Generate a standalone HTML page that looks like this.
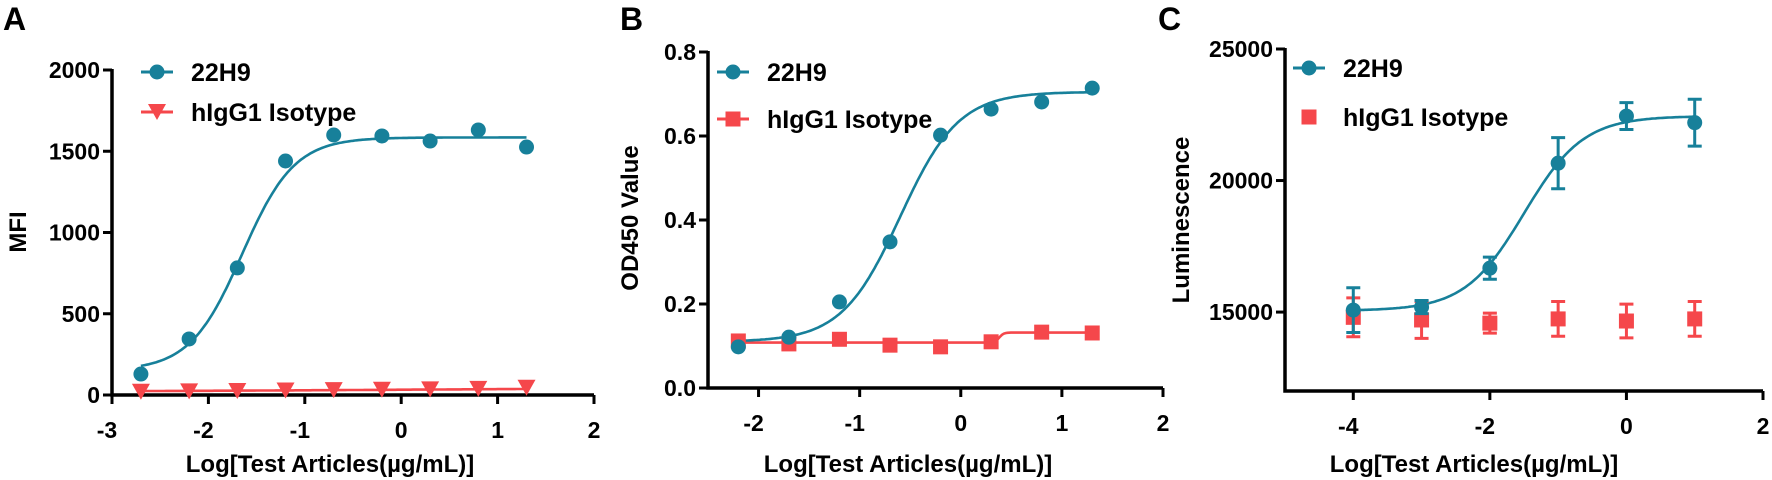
<!DOCTYPE html>
<html><head><meta charset="utf-8">
<style>
body{margin:0;background:#fff;}
svg{display:block;font-family:"Liberation Sans",Arial,sans-serif;font-weight:bold;}
</style></head>
<body>
<svg id="fig" width="1772" height="480" viewBox="0 0 1772 480" xmlns="http://www.w3.org/2000/svg"></svg>
<script>
// ---------- Panel A data ----------
const aX = [-2.7,-2.2,-1.7,-1.2,-0.7,-0.2,0.3,0.8,1.3];
const aMain = [129,345,782,1440,1600,1594,1563,1631,1526];
const aIso = [20,22,25,28,30,32,35,38,45];
const aFit = [150,1585,-1.65,1.6];        // bottom, top, logEC50, hill
const aIsoFit = [20,45,0,0.25];
const aXTicks = [-3,-2,-1,0,1,2];
const aYTicks = [0,500,1000,1500,2000];
// ---------- Panel B data ----------
const bX = [-2.2,-1.7,-1.2,-0.7,-0.2,0.3,0.8,1.3];
const bMain = [0.098,0.121,0.205,0.348,0.602,0.664,0.681,0.714];
const bIso = [0.112,0.105,0.116,0.102,0.098,0.110,0.133,0.131];
const bFit = [0.11,0.705,-0.6,1.5];
const bIsoFit = [0.108,0.132,0.38,20];
const bXTicks = [-2,-1,0,1,2];
const bYTicks = [0,0.2,0.4,0.6,0.8];
const bYLabels = ["0.0","0.2","0.4","0.6","0.8"];
// ---------- Panel C data ----------
const cX = [-4,-3,-2,-1,0,1];
const cMain = [15076,15190,16670,20660,22450,22200];
const cMainErr = [850,250,420,970,510,890];
const cIso = [14800,14700,14580,14740,14660,14740];
const cIsoErr = [740,700,380,660,640,660];
const cFit = [15050,22450,-1.5,1.0];
const cXTicks = [-4,-2,0,2];
const cYTicks = [15000,20000,25000];

const TEAL="#17809a", RED="#f5474b";
const NS="http://www.w3.org/2000/svg";
const svg=document.getElementById('fig');
function el(tag,attrs,parent){const e=document.createElementNS(NS,tag);for(const k in attrs)e.setAttribute(k,attrs[k]);(parent||svg).appendChild(e);return e;}
function txt(s,attrs,parent){const e=el('text',attrs,parent);e.textContent=s;return e;}
function fourPL(p,x){return p[0]+(p[1]-p[0])/(1+Math.pow(10,(p[2]-x)*p[3]));}
function scale(d0,d1,r0,r1){return v=>r0+(v-d0)/(d1-d0)*(r1-r0);}

function panel(cfg){
  const g=el('g',{});
  
  
  const sx=scale(cfg.xd[0],cfg.xd[1],cfg.px[0],cfg.px[1]);
  const sy=scale(cfg.yd[0],cfg.yd[1],cfg.py[0],cfg.py[1]);
  // letter
  const L=txt(cfg.letter,{x:cfg.letterX,y:30,'font-size':32},g);
  
  // axes
  const ax=el('path',{d:`M${cfg.px[0]},${cfg.py[1]-1}V${cfg.py[0]}H${cfg.px[1]}`,fill:'none',stroke:'#000','stroke-width':3.5},g);
  
  cfg.xt.forEach(t=>{
    const x=sx(t);
    const tk=el('line',{x1:x,x2:x,y1:cfg.py[0],y2:cfg.py[0]+9,stroke:'#000','stroke-width':3},g);
    
    const lb=txt(String(t),{x:x-(t<0?5:0),y:cfg.py[0]+43,'text-anchor':'middle','font-size':23},g);
    
  });
  cfg.yt.forEach((t,i)=>{
    const y=sy(t);
    const tk=el('line',{x1:cfg.px[0]-9,x2:cfg.px[0],y1:y,y2:y,stroke:'#000','stroke-width':3},g);
    
    const lb=txt(cfg.yl?cfg.yl[i]:String(t),{x:cfg.px[0]-12,y:y+8,'text-anchor':'end','font-size':23},g);
    
  });
  const xl=txt('Log[Test Articles(µg/mL)]',{x:cfg.xlX,y:472,'text-anchor':'middle','font-size':24},g);
  
  const yl=txt(cfg.ytitle,{x:0,y:0,'text-anchor':'middle','font-size':24,transform:`translate(${cfg.ylX},${cfg.ylY}) rotate(-90)`},g);
  
  // curves
  function curve(p,color,x0,x1,name){
    let d='';for(let i=0;i<=200;i++){const x=x0+(x1-x0)*i/200;d+=(i?'L':'M')+sx(x).toFixed(1)+','+sy(fourPL(p,x)).toFixed(1);}
    const c=el('path',{d,fill:'none',stroke:color,'stroke-width':2.6},g);
    
  }
  if(cfg.isoFit) curve(cfg.isoFit,RED,cfg.x[0],cfg.x[cfg.x.length-1],'isotype-fit-curve');
  curve(cfg.fit,TEAL,cfg.x[0],cfg.x[cfg.x.length-1],'22h9-fit-curve');
  function errbar(x,v,e,color){
    const X=sx(x),y1=sy(v-e),y2=sy(v+e);
    const p=el('path',{d:`M${X},${y1}V${y2}M${X-7},${y1}H${X+7}M${X-7},${y2}H${X+7}`,stroke:color,'stroke-width':3,fill:'none'},g);
    
  }
  function marker(shape,X,Y,color,name){
    let m;
    if(shape==='circle') m=el('circle',{cx:X,cy:Y,r:7.5,fill:color},g);
    else if(shape==='square') m=el('rect',{x:X-7.5,y:Y-7.5,width:15,height:15,fill:color},g);
    else m=el('path',{d:`M${X-9},${Y-8}H${X+9}L${X},${Y+8}Z`,fill:color},g);
    
  }
  cfg.x.forEach((x,i)=>{
    if(cfg.isoErr) errbar(x,cfg.iso[i],cfg.isoErr[i],RED);
    marker(cfg.isoShape,sx(x),sy(cfg.iso[i]),RED,'isotype-point');
  });
  cfg.x.forEach((x,i)=>{
    if(cfg.mainErr) errbar(x,cfg.main[i],cfg.mainErr[i],TEAL);
    marker('circle',sx(x),sy(cfg.main[i]),TEAL,'22h9-point');
  });
  // legend
  const lg=el('g',{},g);
  const [lx,ly1,ly2]=cfg.leg;
  const l1=el('line',{x1:lx-16,x2:lx+16,y1:ly1,y2:ly1,stroke:TEAL,'stroke-width':3},lg);
  
  marker('circle',lx,ly1,TEAL,'legend-marker-22h9');
  const t1=txt('22H9',{x:lx+34,y:ly1+9,'font-size':25},lg);
  
  if(cfg.legLine){const l2=el('line',{x1:lx-16,x2:lx+16,y1:ly2,y2:ly2,stroke:RED,'stroke-width':3},lg);
    }
  marker(cfg.isoShape,lx,ly2,RED,'legend-marker-isotype');
  const t2=txt('hIgG1 Isotype',{x:lx+34,y:ly2+9,'font-size':25},lg);
  
}

panel({name:'panel-a',letter:'A',letterX:3,xd:[-3,2],px:[112,594],yd:[0,2000],py:[395,70],
  xt:aXTicks,yt:aYTicks,x:aX,main:aMain,iso:aIso,fit:aFit,isoFit:aIsoFit,isoShape:'tri',
  ytitle:'MFI',ylX:26,ylY:232,xlX:330,leg:[157,72,112],legLine:true});
panel({name:'panel-b',letter:'B',letterX:620,xd:[-2.5,2],px:[708,1163],yd:[0,0.8],py:[388,52],
  xt:bXTicks,yt:bYTicks,yl:bYLabels,x:bX,main:bMain,iso:bIso,fit:bFit,isoFit:bIsoFit,isoShape:'square',
  ytitle:'OD450 Value',ylX:638,ylY:218,xlX:908,leg:[733,72,119],legLine:true});
panel({name:'panel-c',letter:'C',letterX:1158,xd:[-5,2],px:[1285,1763],yd:[12000,25000],py:[391,49],
  xt:cXTicks,yt:cYTicks,x:cX,main:cMain,mainErr:cMainErr,iso:cIso,isoErr:cIsoErr,fit:cFit,isoShape:'square',
  ytitle:'Luminescence',ylX:1189,ylY:220,xlX:1474,leg:[1309,68,117],legLine:false});
</script>
</body></html>
